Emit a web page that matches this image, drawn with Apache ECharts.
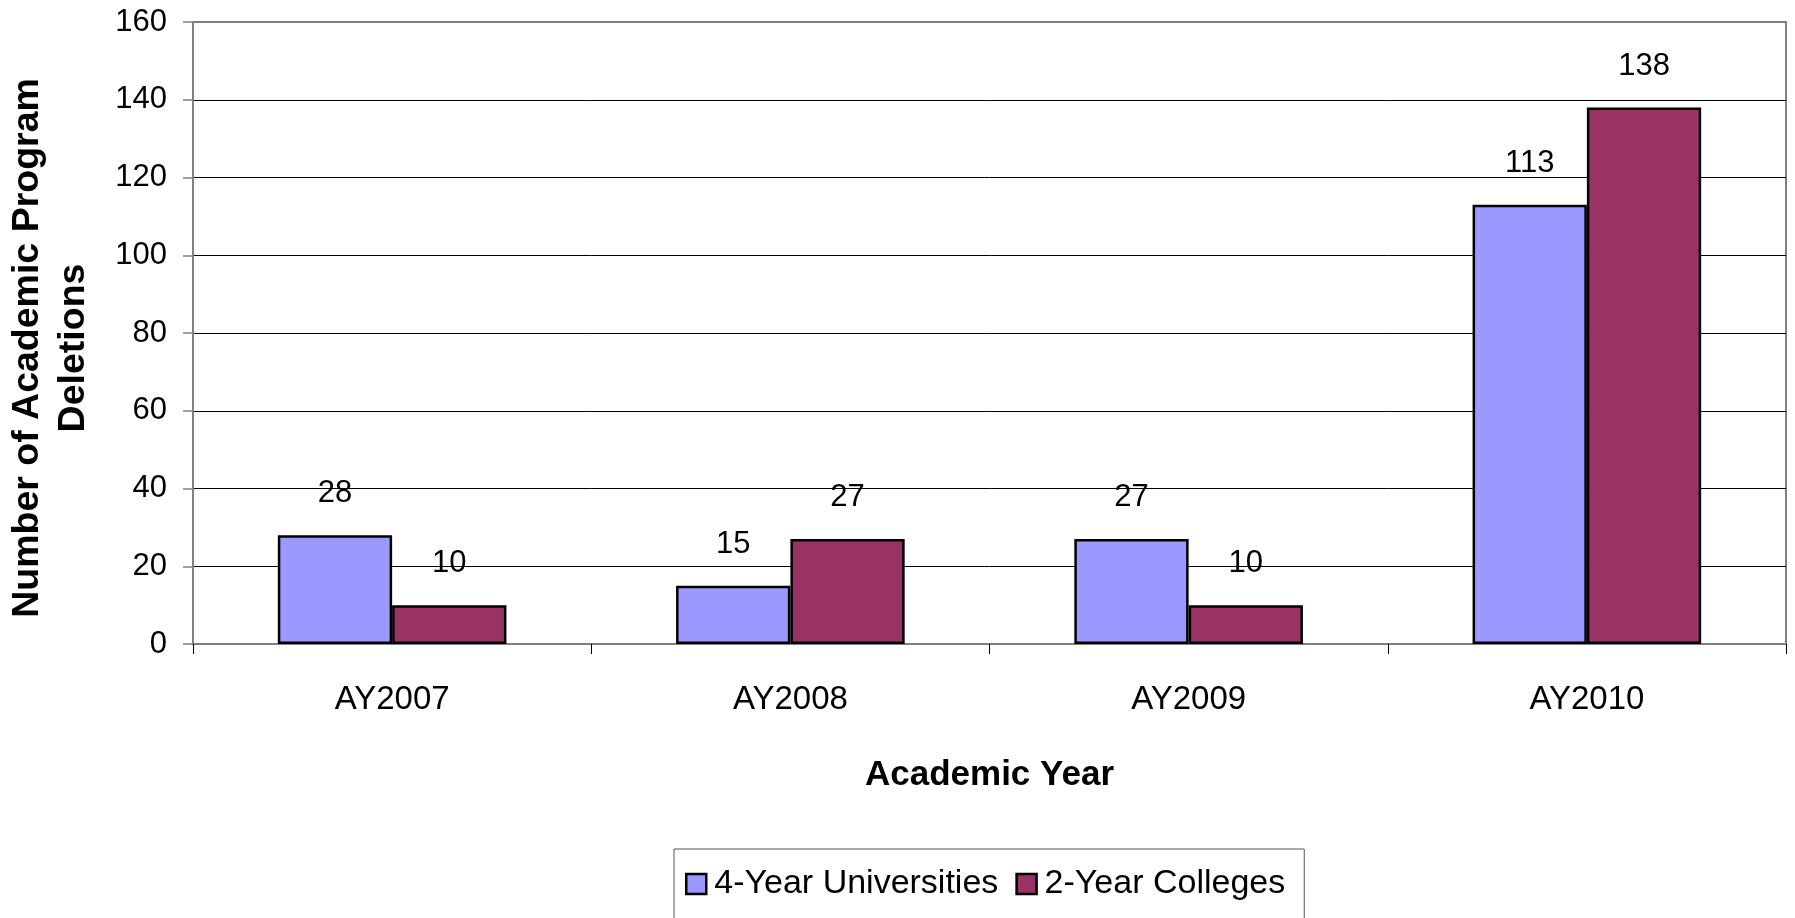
<!DOCTYPE html>
<html>
<head>
<meta charset="utf-8">
<script src="https://cdn.jsdelivr.net/npm/echarts@6/dist/echarts.min.js"></script>
<style>
html,body{margin:0;padding:0;background:#fff;}
#chart{width:1795px;height:918px;}
</style>
</head>
<body>
<div id="chart"></div>
<script>
const categories = ['AY2007', 'AY2008', 'AY2009', 'AY2010'];
const universities = [28, 15, 27, 113];
const colleges = [10, 27, 10, 138];
const seriesNames = ['4-Year Universities', '2-Year Colleges'];
const yTicks = { min: 0, max: 160, interval: 20 };

const FONT = '"Liberation Sans", Arial, sans-serif';
const chart = echarts.init(document.getElementById('chart'), null, { renderer: 'canvas' });

const splitColors = [];
for (let v = yTicks.min; v <= yTicks.max; v += yTicks.interval) {
  splitColors.push(v === yTicks.max ? '#808080' : '#000000');
}

const labelStyle = {
  show: true,
  position: 'top',
  distance: 26,
  color: '#000',
  fontFamily: FONT,
  fontSize: 31
};

chart.setOption({
  animation: false,
  backgroundColor: '#fff',
  textStyle: { fontFamily: FONT },
  grid: {
    left: 193, right: 9, top: 22, bottom: 274,
    outerBoundsMode: 'none',
    containLabel: false,
    show: true, borderColor: '#808080', borderWidth: 2, backgroundColor: 'transparent'
  },
  legend: {
    data: seriesNames,
    left: 674,
    top: 849,
    orient: 'horizontal',
    itemWidth: 20,
    itemHeight: 20,
    itemGap: 17,
    padding: [15, 19, 20, 11],
    borderColor: '#555',
    borderWidth: 1,
    icon: 'rect',
    itemStyle: { borderColor: '#000', borderWidth: 2.5 },
    textStyle: { fontFamily: FONT, fontSize: 34, color: '#000', lineHeight: 40, padding: [0, 0, 0, 3] }
  },
  xAxis: {
    type: 'category',
    data: categories,
    name: 'Academic Year',
    nameLocation: 'middle',
    nameGap: 114,
    nameTextStyle: { fontFamily: FONT, fontSize: 35, fontWeight: 'bold', color: '#000' },
    axisLine: { lineStyle: { color: '#808080', width: 2 } },
    axisTick: { show: true, alignWithLabel: false, length: 10, lineStyle: { color: '#000', width: 1 } },
    axisLabel: { fontFamily: FONT, fontSize: 33, color: '#000', margin: 39 }
  },
  yAxis: {
    type: 'value',
    min: yTicks.min, max: yTicks.max, interval: yTicks.interval,
    name: 'Number of Academic Program\nDeletions',
    nameLocation: 'middle',
    nameRotate: 90,
    nameGap: 96,
    nameTextStyle: {
      fontFamily: FONT, fontSize: 37.5, fontWeight: 'bold', color: '#000',
      lineHeight: 46, padding: [0, 30, 0, 0]
    },
    axisLine: { show: true, lineStyle: { color: '#808080', width: 2 } },
    axisTick: { show: true, length: 10, lineStyle: { color: '#808080', width: 1.5 } },
    axisLabel: { fontFamily: FONT, fontSize: 31, color: '#000', margin: 26 },
    splitLine: { show: true, lineStyle: { color: splitColors, width: 1 } }
  },
  series: [
    {
      name: seriesNames[0],
      type: 'bar',
      data: universities,
      barGap: '0%',
      barCategoryGap: '42.6%',
      itemStyle: { color: '#9999FF', borderColor: '#000', borderWidth: 2.5 },
      label: labelStyle
    },
    {
      name: seriesNames[1],
      type: 'bar',
      data: colleges,
      barGap: '0%',
      barCategoryGap: '42.6%',
      itemStyle: { color: '#993366', borderColor: '#000', borderWidth: 2.5 },
      label: labelStyle
    }
  ]
});
</script>
</body>
</html>
